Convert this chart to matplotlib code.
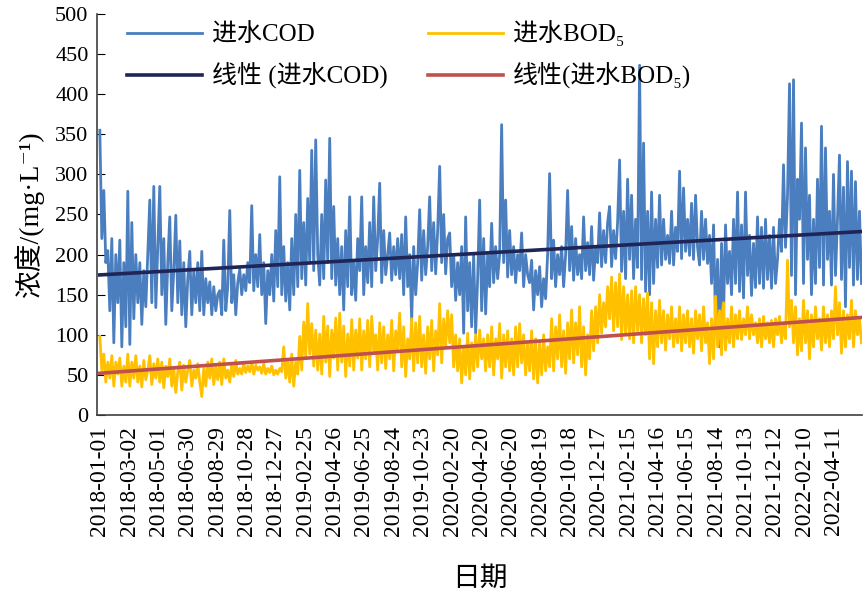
import numpy as np
import matplotlib.pyplot as plt

plt.rcParams['font.family'] = ['Liberation Serif', 'Noto Sans CJK SC', 'DejaVu Serif']

# date tick labels, one every 60 records
tick_labels = ['2018-01-01', '2018-03-02', '2018-05-01', '2018-06-30', '2018-08-29',
               '2018-10-28', '2018-12-27', '2019-02-25', '2019-04-26', '2019-06-25',
               '2019-08-24', '2019-10-23', '2020-02-20', '2020-04-20', '2020-06-20',
               '2020-08-19', '2020-10-18', '2020-12-17', '2021-02-15', '2021-04-16',
               '2021-06-15', '2021-08-14', '2021-10-13', '2021-12-12', '2022-02-10',
               '2022-04-11']
n_records = 1558

# influent COD, mg/L (roughly every 4 records)
cod = [355, 220, 280, 190, 205, 130, 220, 90, 200, 140,
       218, 85, 190, 110, 279, 88, 240, 120, 200, 140,
       190, 113, 180, 135, 200, 268, 140, 285, 134, 210,
       285, 150, 220, 113, 190, 247, 130, 180, 249, 140,
       217, 125, 190, 110, 170, 204, 125, 180, 140, 190,
       130, 204, 125, 170, 140, 166, 125, 160, 130, 150,
       155, 125, 218, 130, 160, 255, 140, 175, 125, 165,
       182, 150, 175, 155, 190, 165, 261, 155, 200, 160,
       225, 150, 190, 114, 180, 150, 200, 142, 230, 160,
       297, 150, 210, 142, 190, 131, 220, 150, 250, 160,
       305, 170, 240, 162, 270, 190, 330, 180, 343, 200,
       162, 250, 170, 293, 190, 345, 170, 260, 162, 220,
       150, 210, 131, 230, 160, 272, 150, 190, 143, 220,
       180, 272, 150, 210, 165, 240, 160, 272, 180, 220,
       289, 165, 230, 175, 200, 227, 168, 210, 175, 220,
       170, 225, 150, 247, 160, 200, 118, 210, 150, 190,
       256, 168, 230, 175, 210, 272, 180, 240, 176, 230,
       310, 190, 250, 176, 220, 227, 160, 200, 143, 190,
       150, 210, 102, 247, 130, 190, 110, 200, 102, 170,
       268, 130, 220, 126, 200, 160, 239, 165, 210, 170,
       200, 362, 190, 268, 172, 230, 175, 210, 165, 200,
       180, 227, 160, 200, 175, 165, 193, 131, 180, 150,
       185, 135, 170, 145, 200, 301, 170, 218, 160, 200,
       175, 210, 160, 200, 280, 180, 235, 168, 220, 175,
       200, 170, 247, 180, 215, 175, 235, 168, 210, 190,
       252, 185, 230, 190, 240, 260, 185, 230, 195, 240,
       318, 179, 254, 170, 294, 194, 274, 170, 244, 184,
       436, 169, 339, 154, 254, 150, 278, 164, 244, 184,
       274, 187, 244, 194, 224, 189, 254, 187, 234, 204,
       304, 195, 283, 204, 244, 199, 264, 194, 274, 209,
       187, 254, 194, 244, 189, 224, 164, 237, 114, 194,
       85, 214, 124, 237, 164, 204, 150, 244, 164, 278,
       154, 237, 146, 278, 174, 224, 149, 214, 159, 247,
       164, 234, 158, 244, 169, 224, 158, 234, 164, 194,
       244, 204, 312, 209, 274, 413, 174, 418, 150, 294,
       244, 364, 164, 333, 194, 274, 150, 244, 164, 294,
       184, 360, 162, 333, 194, 254, 162, 300, 174, 244,
       324, 169, 284, 135, 316, 184, 304, 162, 291, 169,
       254, 164]

# influent BOD5, mg/L
bod = [98, 56, 76, 41, 66, 46, 74, 36, 66, 51,
       71, 36, 61, 41, 76, 36, 66, 46, 74, 41,
       61, 35, 68, 44, 56, 74, 38, 64, 46, 70,
       41, 66, 34, 61, 48, 70, 36, 58, 28, 54,
       66, 31, 62, 41, 56, 68, 36, 56, 46, 64,
       41, 23, 58, 36, 66, 46, 70, 38, 61, 44,
       66, 38, 70, 46, 56, 41, 64, 48, 68, 51,
       58, 51, 64, 53, 61, 54, 66, 51, 62, 56,
       60, 52, 64, 51, 58, 53, 61, 50, 56, 51,
       58, 54, 85, 46, 68, 41, 76, 36, 66, 51,
       98, 56, 116, 71, 139, 76, 114, 61, 106, 56,
       101, 51, 123, 66, 111, 48, 106, 71, 121, 56,
       127, 66, 111, 48, 101, 61, 119, 56, 106, 71,
       120, 56, 105, 70, 118, 60, 123, 80, 100, 56,
       115, 65, 110, 58, 100, 70, 118, 55, 105, 80,
       127, 60, 110, 48, 95, 70, 120, 55, 115, 65,
       123, 60, 100, 52, 110, 70, 118, 55, 105, 75,
       139, 65, 120, 85, 130, 90, 125, 60, 100, 55,
       95, 40, 85, 50, 102, 45, 90, 55, 100, 60,
       106, 70, 95, 55, 100, 60, 110, 50, 95, 70,
       114, 46, 100, 60, 105, 55, 95, 50, 110, 60,
       114, 65, 100, 50, 90, 55, 105, 45, 95, 40,
       90, 50, 100, 55, 85, 60, 120, 55, 110, 70,
       125, 60, 105, 52, 115, 70, 131, 65, 115, 75,
       135, 60, 110, 50, 100, 70, 130, 80, 135, 90,
       150, 102, 140, 110, 160, 120, 172, 105, 165, 110,
       176, 94, 160, 100, 150, 95, 155, 90, 160, 105,
       150, 90, 145, 100, 152, 70, 140, 64, 130, 85,
       143, 90, 130, 81, 125, 95, 135, 85, 120, 90,
       135, 80, 125, 90, 130, 85, 120, 77, 130, 95,
       125, 80, 135, 90, 115, 64, 120, 70, 148, 85,
       130, 75, 140, 81, 120, 90, 135, 85, 125, 95,
       130, 94, 120, 100, 135, 95, 125, 100, 115, 90,
       120, 85, 123, 95, 115, 90, 118, 85, 120, 100,
       123, 90, 115, 95, 193, 110, 143, 90, 135, 75,
       120, 80, 143, 90, 130, 70, 125, 85, 135, 95,
       120, 81, 135, 90, 125, 85, 130, 95, 160, 100,
       140, 77, 130, 85, 125, 95, 143, 85, 130, 100,
       120, 90]

x = np.linspace(0, n_records - 1, len(cod))
cod_fit = np.polyfit(x, cod, 1)
bod_fit = np.polyfit(x, bod, 1)
x_fit = np.array([x[0], x[-1]])

fig = plt.figure(figsize=(8.65, 5.95), dpi=100)
ax = fig.add_axes([0.112, 0.3025, 0.8845, 0.674])

l1, = ax.plot(x, cod, color='#4A7EBF', lw=2.0, label='进水COD')
l2, = ax.plot(x, bod, color='#FFC000', lw=2.0, label='进水BOD₅')
l3, = ax.plot(x_fit, np.polyval(cod_fit, x_fit), color='#1F2556', lw=2.6,
              label='线性 (进水COD)')
l4, = ax.plot(x_fit, np.polyval(bod_fit, x_fit), color='#C0504D', lw=2.6,
              label='线性(进水BOD₅)')

ax.set_ylim(0, 500)
ax.set_yticks(np.arange(0, 501, 50))
ax.set_xlim(-6, n_records)
ax.set_xticks(np.arange(len(tick_labels)) * 60)
ax.set_xticklabels(tick_labels, rotation=90, fontsize=17)
ax.tick_params(axis='y', direction='in', length=6, labelsize=16, pad=6)
ax.tick_params(axis='x', length=0, pad=8)
for s in ['top', 'right']:
    ax.spines[s].set_visible(False)
for s in ['left', 'bottom']:
    ax.spines[s].set_color('#404040')
    ax.spines[s].set_linewidth(1.2)

ax.set_ylabel('浓度/(mg·L⁻¹)', fontsize=20, labelpad=8)
ax.set_xlabel('日期', fontsize=20, labelpad=22)

ax.legend(handles=[l1, l3, l2, l4], ncol=2, frameon=False, fontsize=18,
          loc='upper left', bbox_to_anchor=(0.01, 1.04), handlelength=3.0,
          handletextpad=0.4, columnspacing=1.6, labelspacing=0.65)

fig.savefig('out.png', dpi=100)
